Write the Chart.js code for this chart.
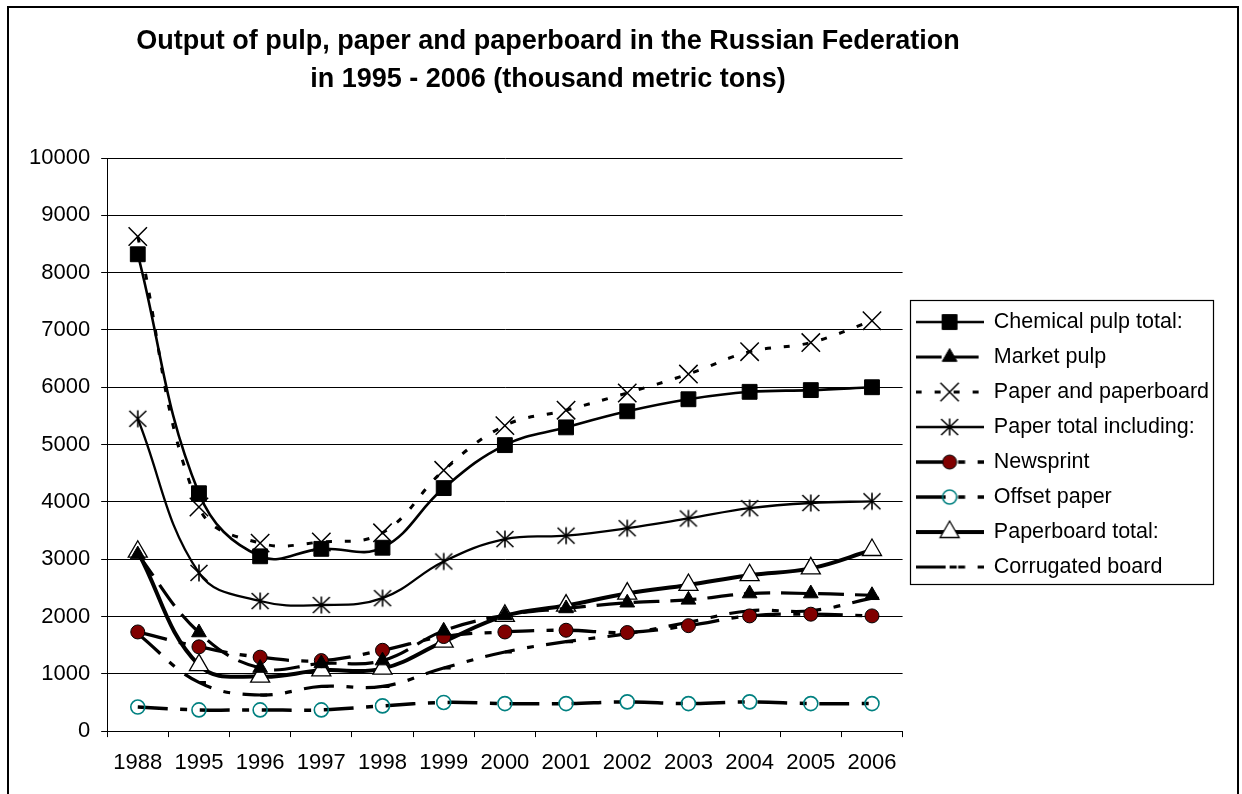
<!DOCTYPE html>
<html>
<head>
<meta charset="utf-8">
<title>Output of pulp, paper and paperboard</title>
<script src="https://cdn.jsdelivr.net/npm/chart.js@4/dist/chart.umd.min.js"></script>
<style>
  html, body { margin: 0; padding: 0; background: #fff; }
  #wrap { width: 1242px; height: 794px; }
</style>
</head>
<body>
<div id="wrap"><canvas id="chart" width="1242" height="794"></canvas></div>
<script>
// Categories and series (thousand metric tons)
const years = ['1988', '1995', '1996', '1997', '1998', '1999', '2000', '2001', '2002', '2003', '2004', '2005', '2006'];
const chemicalPulp  = [8320, 4150, 3050, 3180, 3200, 4240, 4990, 5300, 5580, 5790, 5920, 5950, 6000];
const marketPulp    = [3080, 1720, 1100, 1180, 1230, 1750, 2020, 2140, 2240, 2290, 2400, 2400, 2370];
const paperAndBoard = [8630, 3910, 3280, 3300, 3460, 4550, 5330, 5600, 5900, 6230, 6620, 6780, 7160];
const paperTotal    = [5450, 2760, 2270, 2200, 2320, 2960, 3350, 3410, 3540, 3710, 3890, 3980, 4010];
const newsprint     = [1730, 1470, 1290, 1230, 1410, 1650, 1730, 1760, 1720, 1840, 2010, 2040, 2010];
const offsetPaper   = [420, 370, 370, 370, 440, 500, 480, 480, 510, 480, 510, 480, 480];
const paperboard    = [3130, 1150, 950, 1060, 1090, 1560, 2010, 2190, 2400, 2550, 2720, 2840, 3160];
const corrugated    = [1700, 850, 630, 780, 780, 1100, 1380, 1560, 1700, 1900, 2100, 2100, 2320];
const yTicks = [0, 1000, 2000, 3000, 4000, 5000, 6000, 7000, 8000, 9000, 10000];
const titleLines = ['Output of pulp, paper and paperboard in the Russian Federation',
                    'in 1995 - 2006 (thousand metric tons)'];

const FONT = '"Liberation Sans", Arial, Helvetica, sans-serif';

// Excel style asterisk marker (vertical bar + X)
function makeAsterisk() {
  const c = document.createElement('canvas');
  c.width = 20; c.height = 20;
  const g = c.getContext('2d');
  g.strokeStyle = '#000';
  g.lineWidth = 1.6;
  g.beginPath();
  g.moveTo(10, 1.5); g.lineTo(10, 18.5);
  g.moveTo(1.5, 2); g.lineTo(18.5, 18);
  g.moveTo(1.5, 18); g.lineTo(18.5, 2);
  g.stroke();
  return c;
}
const asterisk = makeAsterisk();

const longDashDot = [30, 12.5, 7, 12.5];

const datasets = [
  { label: 'Chemical pulp total:', data: chemicalPulp, borderColor: '#000', borderWidth: 2.6,
    pointStyle: 'rect', pointRadius: 10.5, pointBackgroundColor: '#000', pointBorderColor: '#000', pointBorderWidth: 1 },
  { label: 'Market pulp', data: marketPulp, borderColor: '#000', borderWidth: 3.2, borderDash: [26, 11],
    pointStyle: 'triangle', pointRadius: 8.5, pointBackgroundColor: '#000', pointBorderColor: '#000', pointBorderWidth: 1 },
  { label: 'Paper and paperboard', data: paperAndBoard, borderColor: '#000', borderWidth: 3, borderDash: [6, 13],
    pointStyle: 'crossRot', pointRadius: 13, pointBackgroundColor: '#000', pointBorderColor: '#000', pointBorderWidth: 1.5 },
  { label: 'Paper total including:', data: paperTotal, borderColor: '#000', borderWidth: 2.3,
    pointStyle: asterisk, pointRadius: 10, pointBorderWidth: 0 },
  { label: 'Newsprint', data: newsprint, borderColor: '#000', borderWidth: 3.3, borderDash: longDashDot,
    pointStyle: 'circle', pointRadius: 7, pointBackgroundColor: '#800000', pointBorderColor: '#000', pointBorderWidth: 1 },
  { label: 'Offset paper', data: offsetPaper, borderColor: '#000', borderWidth: 3.5, borderDash: longDashDot,
    pointStyle: 'circle', pointRadius: 7, pointBackgroundColor: 'rgba(0,0,0,0)', pointBorderColor: '#008080', pointBorderWidth: 1.6 },
  { label: 'Paperboard total:', data: paperboard, borderColor: '#000', borderWidth: 4,
    pointStyle: 'triangle', pointRadius: 11, pointBackgroundColor: '#fff', pointBorderColor: '#000', pointBorderWidth: 1.3 },
  { label: 'Corrugated board', data: corrugated, borderColor: '#000', borderWidth: 3.2, borderDash: longDashDot,
    pointStyle: 'dash', pointRadius: 7, pointBackgroundColor: '#000', pointBorderColor: '#000', pointBorderWidth: 3 }
];
datasets.forEach(ds => { ds.fill = false; ds.tension = 0.4; ds.pointHoverRadius = ds.pointRadius; });

// legend sample: short line with the marker in the middle
function makeLegendImage(ds) {
  const c = document.createElement('canvas');
  c.width = 68; c.height = 26;
  const g = c.getContext('2d');
  g.strokeStyle = ds.borderColor;
  g.lineWidth = ds.borderWidth;
  g.setLineDash(ds.borderDash || []);
  g.beginPath();
  g.moveTo(0, 13); g.lineTo(68, 13);
  g.stroke();
  g.setLineDash([]);
  if (typeof ds.pointStyle === 'object') {
    g.drawImage(ds.pointStyle, 34 - ds.pointStyle.width / 2, 13 - ds.pointStyle.height / 2);
  } else {
    g.fillStyle = ds.pointBackgroundColor;
    g.strokeStyle = ds.pointBorderColor;
    g.lineWidth = ds.pointBorderWidth;
    Chart.helpers.drawPoint(g, { pointStyle: ds.pointStyle, radius: ds.pointRadius,
      borderWidth: ds.pointBorderWidth, rotation: 0 }, 34, 13);
  }
  return c;
}
const legendImages = datasets.map(makeLegendImage);

const framePlugin = {
  id: 'frame',
  afterLayout(chart) {
    // centre the title the way the original sheet does
    const t = chart.titleBlock;
    t.left = 0; t.right = 1096; t.width = 1096;
  },
  afterDraw(chart) {
    const ctx = chart.ctx;
    ctx.save();
    ctx.strokeStyle = '#000';
    ctx.lineWidth = 2;
    ctx.strokeRect(8, 7, 1230, 800);
    // legend frame
    const hb = chart.legend.legendHitBoxes;
    if (hb && hb.length) {
      const left = Math.min(...hb.map(b => b.left)) - 6;
      const right = Math.max(...hb.map(b => b.left + b.width)) + 4;
      const top = hb[0].top - 11;
      const bottom = hb[hb.length - 1].top + hb[hb.length - 1].height + 7;
      ctx.lineWidth = 1.2;
      ctx.strokeRect(Math.round(left) + 0.5, Math.round(top) + 0.5, Math.round(right - left), Math.round(bottom - top));
    }
    ctx.restore();
  }
};

new Chart(document.getElementById('chart'), {
  type: 'line',
  data: { labels: years, datasets: datasets },
  plugins: [framePlugin],
  options: {
    responsive: false,
    animation: false,
    devicePixelRatio: 1,
    layout: { padding: { left: 18, right: 23, top: 0, bottom: 4.5 } },
    plugins: {
      tooltip: { enabled: false },
      title: {
        display: true,
        text: titleLines,
        color: '#000',
        font: { family: FONT, size: 27, weight: 'bold', lineHeight: 1.4 },
        padding: { top: 23, bottom: 59.4 }
      },
      legend: {
        position: 'right',
        fullSize: false,
        maxWidth: 340,
        labels: {
          usePointStyle: true,
          pointStyleWidth: 67,
          boxHeight: 22,
          padding: 13.5,
          color: '#000',
          font: { family: FONT, size: 21.5 },
          generateLabels: chart => chart.data.datasets.map((ds, i) => ({
            text: ds.label,
            pointStyle: legendImages[i],
            fillStyle: 'rgba(0,0,0,0)',
            strokeStyle: 'rgba(0,0,0,0)',
            lineWidth: 0,
            hidden: false,
            datasetIndex: i
          }))
        }
      }
    },
    scales: {
      x: {
        offset: true,
        grid: { offset: true, drawOnChartArea: false, color: '#000', lineWidth: 1, tickLength: 6 },
        border: { color: '#000', width: 1 },
        ticks: { color: '#000', font: { family: FONT, size: 22 }, padding: 13, maxRotation: 0, autoSkip: false }
      },
      y: {
        min: yTicks[0],
        max: yTicks[yTicks.length - 1],
        afterBuildTicks: axis => { axis.ticks = yTicks.map(v => ({ value: v })); },
        grid: { color: '#000', lineWidth: 1, tickLength: 6 },
        border: { color: '#000', width: 1 },
        ticks: { color: '#000', font: { family: FONT, size: 22 }, padding: 11, callback: v => String(v) }
      }
    }
  }
});
</script>
</body>
</html>
